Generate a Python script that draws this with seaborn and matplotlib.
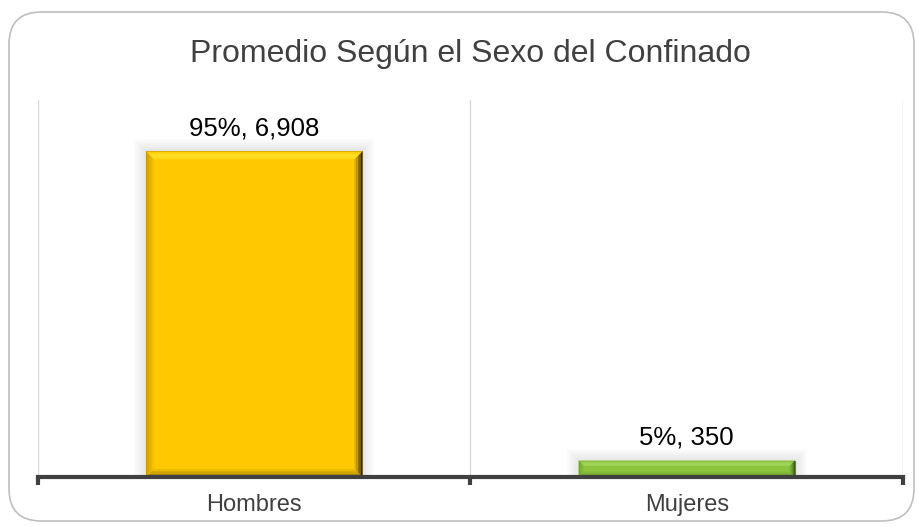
import matplotlib
matplotlib.use("Agg")
import matplotlib.pyplot as plt
from matplotlib.patches import FancyBboxPatch, Polygon, Rectangle
import matplotlib.colors as mcolors
import numpy as np
import seaborn as sns
import pandas as pd

categories = ["Hombres", "Mujeres"]
values = [6908, 350]
percents = ["95%", "5%"]
title = "Promedio Según el Sexo del Confinado"
colors = ["#FFC800", "#8CC63F"]
top_colors = ["#FFE430", "#A9DD62"]
side_dark = ["#2A2000", "#2E4A10"]

df = pd.DataFrame({"cat": categories, "val": values})

sns.set_style("white")
plt.rcParams["font.family"] = ["Liberation Sans", "DejaVu Sans"]

fig = plt.figure(figsize=(9.2, 5.27), dpi=100)
fig.patch.set_facecolor("white")

border = FancyBboxPatch((9 / 920, 6 / 527), 905 / 920, 509 / 527,
                        boxstyle="round,pad=0,rounding_size=0.035",
                        transform=fig.transFigure, facecolor="none",
                        edgecolor="#BFBFBF", linewidth=1.2, mutation_aspect=920 / 527,
                        zorder=-1)
fig.patches.append(border)

ax = fig.add_axes([38 / 920, 1 - 477 / 527, (903 - 38) / 920, (477 - 100) / 527])
ax.set_facecolor("none")

sns.barplot(data=df, x="cat", y="val", hue="cat", palette=colors, legend=False,
            width=0.5, ax=ax, saturation=1)

ax.set_ylim(0, 8000)
ax.set_xlim(-0.5, 1.5)

# pixel -> data scale factors
ax_w_px = 865.0
ax_h_px = 377.0
px_x = (1.5 - (-0.5)) / ax_w_px
px_y = 8000.0 / ax_h_px


def mix(c1, c2, t):
    a = np.array(mcolors.to_rgb(c1))
    b = np.array(mcolors.to_rgb(c2))
    return tuple(a * (1 - t) + b * t)


bars = list(ax.patches)
for p, base, topc, dark in zip(bars, colors, top_colors, side_dark):
    x0, y0 = p.get_x(), p.get_y()
    w, h = p.get_width(), p.get_height()
    x1, y1 = x0 + w, y0 + h
    p.set_edgecolor(mix(base, "black", 0.3))
    p.set_linewidth(0.8)
    p.set_zorder(2)
    # soft glow shadow
    for k in range(1, 7):
        ax.add_patch(Rectangle((x0 - 2 * k * px_x, y0), w + 4 * k * px_x, h + 2 * k * px_y,
                               facecolor="#808080", alpha=0.03, edgecolor="none",
                               zorder=1, clip_on=False))
    bh_px = min(8.0, h / px_y / 3.0)
    bx = bh_px * px_x
    by = bh_px * px_y
    n = 5
    for k in range(n):
        t0 = k / n
        t1 = (k + 1) / n
        # top bevel (highlight)
        ax.add_patch(Polygon([(x0 + bx * t0, y1 - by * t0), (x1 - bx * t0, y1 - by * t0),
                              (x1 - bx * t1, y1 - by * t1), (x0 + bx * t1, y1 - by * t1)],
                             closed=True, facecolor=mix(base, topc, 1 - abs(t0 - 0.5) * 1.6),
                             edgecolor="none", zorder=3))
        # right bevel (dark toward edge)
        ax.add_patch(Polygon([(x1 - bx * t0, y1 - by * t0), (x1 - bx * t1, y1 - by * t1),
                              (x1 - bx * t1, y0 + by * t1), (x1 - bx * t0, y0 + by * t0)],
                             closed=True, facecolor=mix(base, dark, (1 - t0) ** 1.2 * 0.95),
                             edgecolor="none", zorder=3))
        # bottom bevel
        ax.add_patch(Polygon([(x0 + bx * t0, y0 + by * t0), (x1 - bx * t0, y0 + by * t0),
                              (x1 - bx * t1, y0 + by * t1), (x0 + bx * t1, y0 + by * t1)],
                             closed=True, facecolor=mix(base, dark, (1 - t0) * 0.45),
                             edgecolor="none", zorder=3))
        # left bevel
        ax.add_patch(Polygon([(x0 + bx * t0, y1 - by * t0), (x0 + bx * t1, y1 - by * t1),
                              (x0 + bx * t1, y0 + by * t1), (x0 + bx * t0, y0 + by * t0)],
                             closed=True, facecolor=mix(base, dark, (1 - t0) * 0.25),
                             edgecolor="none", zorder=3))

ax.set_yticks([])
ax.set_xlabel("")
ax.set_ylabel("")

for x in [-0.5, 0.5, 1.5]:
    ax.axvline(x, color="#D9D9D9", linewidth=1, zorder=0)

for s in ["top", "right", "left"]:
    ax.spines[s].set_visible(False)
ax.spines["bottom"].set_color("#404040")
ax.spines["bottom"].set_linewidth(3)
ax.spines["bottom"].set_zorder(5)

ax.set_xticks([-0.5, 0.5, 1.5], minor=False)
ax.set_xticklabels([])
ax.tick_params(axis="x", which="major", bottom=True, length=6, width=3,
               color="#404040", direction="out")
ax.set_xticks([0, 1], minor=True)
ax.set_xticklabels(categories, minor=True)
ax.tick_params(axis="x", which="minor", bottom=True, length=0, pad=12.5,
               labelsize=17, labelcolor="#404040")

for i, (v, pc) in enumerate(zip(values, percents)):
    ax.annotate(f"{pc}, {v:,}", xy=(i, v), xytext=(0, 11.5), textcoords="offset points",
                ha="center", va="baseline", fontsize=18.5, color="black")

fig.text(470.5 / 920, 1 - 62 / 527, title, ha="center", va="baseline",
         fontsize=23, color="#404040")

fig.savefig("out.png", dpi=100)
